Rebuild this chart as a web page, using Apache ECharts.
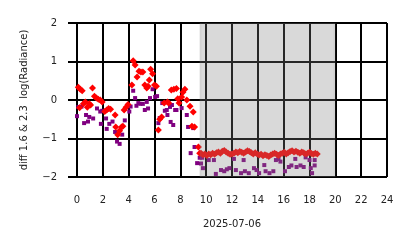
<!DOCTYPE html>
<html><head><meta charset="utf-8">
<script src="https://cdn.jsdelivr.net/npm/echarts@6/dist/echarts.min.js"></script>
<style>html,body{margin:0;padding:0;background:#fff}#c{width:414px;height:248px}</style>
</head><body><div id="c"></div>
<script>
const xTicks = ['0','2','4','6','8','10','12','14','16','18','20','22','24'];
const yTicks = ['\u22122','\u22121','0','1','2'];
const shadeStart = [9.5];
const shadeEnd = [20];
const xLabel = '2025-07-06';
const yLabel = 'diff 1.6 & 2.3  log(Radiance)';

const redHour = [0.1,0.25,0.4,0.2,0.5,0.65,0.8,0.95,1.05,1.2,1.35,1.5,1.65,1.8,1.95,2.15,2.3,2.45,2.6,2.95,3.0,3.15,3.3,3.45,3.55,3.65,3.8,3.95,4.25,4.35,4.5,4.65,4.8,4.95,5.1,5.25,5.4,5.5,5.6,5.7,5.85,6.0,6.15,6.3,6.4,6.55,6.75,7.0,7.1,7.3,7.5,7.7,7.8,7.9,8.1,8.2,8.35,8.5,8.75,9.0,8.9,9.1,9.4,9.5,
 9.6,9.75,9.9,10.05,10.2,10.35,10.5,10.65,10.8,10.95,11.1,11.25,11.4,11.55,11.7,11.85,12.0,12.15,12.3,12.45,12.6,12.75,12.9,13.05,13.2,13.35,13.5,13.65,13.8,13.95,14.1,14.25,14.4,14.55,14.7,14.85,15.0,15.15,15.3,15.45,15.6,15.75,15.9,16.05,16.2,16.35,16.5,16.65,16.8,16.95,17.1,17.25,17.4,17.55,17.7,17.85,18.0,18.15,18.3,18.45,18.6];
const redDiff = [0.33,0.28,0.24,-0.2,-0.1,-0.05,-0.19,-0.1,-0.13,0.31,0.1,0.05,0.02,0.0,-0.05,-0.3,-0.26,-0.22,-0.24,-0.39,-0.7,-0.9,-0.8,-0.7,-0.68,-0.26,-0.19,-0.12,0.39,1.02,0.91,0.6,0.75,0.73,0.73,0.39,0.31,0.36,0.52,0.8,0.68,0.39,0.36,-0.78,-0.5,-0.44,-0.08,-0.05,-0.08,0.26,0.28,0.3,0.03,-0.08,0.08,0.2,0.28,0.0,-0.16,-0.31,-0.68,-0.7,-1.22,-1.38,
 -1.38,-1.42,-1.40,-1.44,-1.40,-1.42,-1.38,-1.41,-1.37,-1.35,-1.38,-1.33,-1.31,-1.35,-1.38,-1.41,-1.40,-1.38,-1.35,-1.37,-1.34,-1.36,-1.38,-1.35,-1.32,-1.34,-1.37,-1.40,-1.37,-1.40,-1.43,-1.41,-1.45,-1.42,-1.44,-1.47,-1.43,-1.40,-1.38,-1.41,-1.44,-1.40,-1.38,-1.36,-1.40,-1.37,-1.34,-1.32,-1.35,-1.33,-1.36,-1.38,-1.35,-1.37,-1.40,-1.38,-1.36,-1.39,-1.41,-1.38,-1.40];

const purpleHour = [0.0,0.1,0.35,0.55,0.7,0.85,0.95,1.25,1.55,1.8,1.85,1.95,2.25,2.3,2.5,2.75,2.95,3.1,3.3,3.5,3.7,4.05,4.15,4.35,4.5,4.6,4.75,4.9,5.1,5.25,5.4,5.5,5.65,5.85,6.05,6.2,6.3,6.4,6.6,6.8,6.95,7.0,7.2,7.25,7.35,7.45,7.6,7.7,8.1,8.5,8.6,8.8,9.0,9.1,9.3,
 9.5,9.6,9.7,9.75,10.2,10.6,10.75,11.15,11.4,11.6,11.8,12.15,12.3,12.7,12.9,13.0,13.3,13.7,13.9,14.1,14.5,14.6,14.9,15.2,15.4,15.6,15.75,16.1,16.4,16.6,16.9,17.0,17.3,17.55,17.7,18.0,18.1,18.2,18.4,18.4];
const purpleDiff = [-0.42,-0.18,-0.17,-0.6,-0.39,-0.56,-0.44,-0.48,-0.22,-0.3,-0.62,-0.28,-0.48,-0.75,-0.62,-0.56,-0.83,-1.08,-1.14,-0.9,-0.53,-0.3,-0.17,0.24,0.05,-0.15,-0.08,-0.1,-0.1,-0.26,-0.05,-0.22,0.05,0.28,0.08,0.1,-0.6,-0.47,-0.08,-0.28,-0.26,-0.39,-0.18,-0.57,-0.13,-0.65,-0.26,-0.26,-0.21,-0.39,-0.7,-1.38,-0.73,-1.22,-1.64,
 -1.5,-1.65,-1.5,-1.77,-1.56,-1.56,-1.92,-1.82,-1.85,-1.8,-1.77,-1.53,-1.82,-1.9,-1.56,-1.85,-1.9,-1.77,-1.82,-1.9,-1.69,-1.85,-1.9,-1.85,-1.56,-1.53,-1.6,-1.85,-1.74,-1.7,-1.53,-1.74,-1.7,-1.74,-1.49,-1.56,-1.77,-1.9,-1.56,-1.7];

const redData = redHour.map((h,i)=>[h, redDiff[i]]);
const purpleData = purpleHour.map((h,i)=>[h, purpleDiff[i]]);
const shadeData = shadeStart.map((s,i)=>[s, shadeEnd[i]]);

const font = 'DejaVu Sans';
const chart = echarts.init(document.getElementById('c'), null, {renderer:'canvas'});
function shadeItem(params, api){
  const a = api.value(0), b = api.value(1);
  const p0 = api.coord([a, 2]);
  const p1 = api.coord([b, -2]);
  const e0 = api.coord([a + 0.15, 2]);
  const e1 = api.coord([b - 0.15, 2]);
  return {type:'group', children:[
    {type:'rect', shape:{x:p0[0], y:p0[1], width:p1[0]-p0[0], height:p1[1]-p0[1]},
     style:{fill:'rgba(128,128,128,0.3)'}},
    {type:'rect', shape:{x:p0[0], y:p0[1], width:e0[0]-p0[0], height:p1[1]-p0[1]},
     style:{fill:'rgba(128,128,128,0.08)'}},
    {type:'rect', shape:{x:e1[0], y:p0[1], width:p1[0]-e1[0], height:p1[1]-p0[1]},
     style:{fill:'rgba(128,128,128,0.08)'}}
  ]};
}
chart.setOption({
  animation:false,
  grid:{left:77, right:27, top:23, bottom:71, containLabel:false},
  xAxis:{type:'value', min:0, max:24, interval:2,
    name:xLabel, nameLocation:'middle', nameGap:42,
    nameTextStyle:{fontFamily:font, fontSize:10, color:'#222'},
    axisLine:{show:true, lineStyle:{color:'#000', width:2}},
    axisTick:{show:true, length:9, lineStyle:{color:'#000', width:2}},
    axisLabel:{margin:18, fontFamily:font, fontSize:10, color:'#222',
      formatter:v=>xTicks[Math.round(v/2)]},
    splitLine:{show:true, lineStyle:{color:'#000', width:2}}},
  yAxis:{type:'value', min:-2, max:2, interval:1,
    name:yLabel, nameLocation:'middle', nameGap:48, nameRotate:90,
    nameTextStyle:{fontFamily:font, fontSize:10, color:'#222'},
    axisLine:{show:true, lineStyle:{color:'#000', width:2}},
    axisTick:{show:true, length:9, lineStyle:{color:'#000', width:2}},
    axisLabel:{margin:20, fontFamily:font, fontSize:10, color:'#222',
      formatter:v=>yTicks[Math.round(v+2)]},
    splitLine:{show:true, lineStyle:{color:'#000', width:2}}},
  series:[
    {type:'scatter', data:purpleData, symbol:'rect', symbolSize:4,
     itemStyle:{color:'#800080', opacity:1}, z:2},
    {type:'scatter', data:redData, symbol:'diamond', symbolSize:7,
     itemStyle:{color:'#ff0000', opacity:1}, z:3},
    {type:'custom', data:shadeData, renderItem:shadeItem, silent:true, z:10,
     encode:{x:[0,1]}}
  ]
});
</script></body></html>
